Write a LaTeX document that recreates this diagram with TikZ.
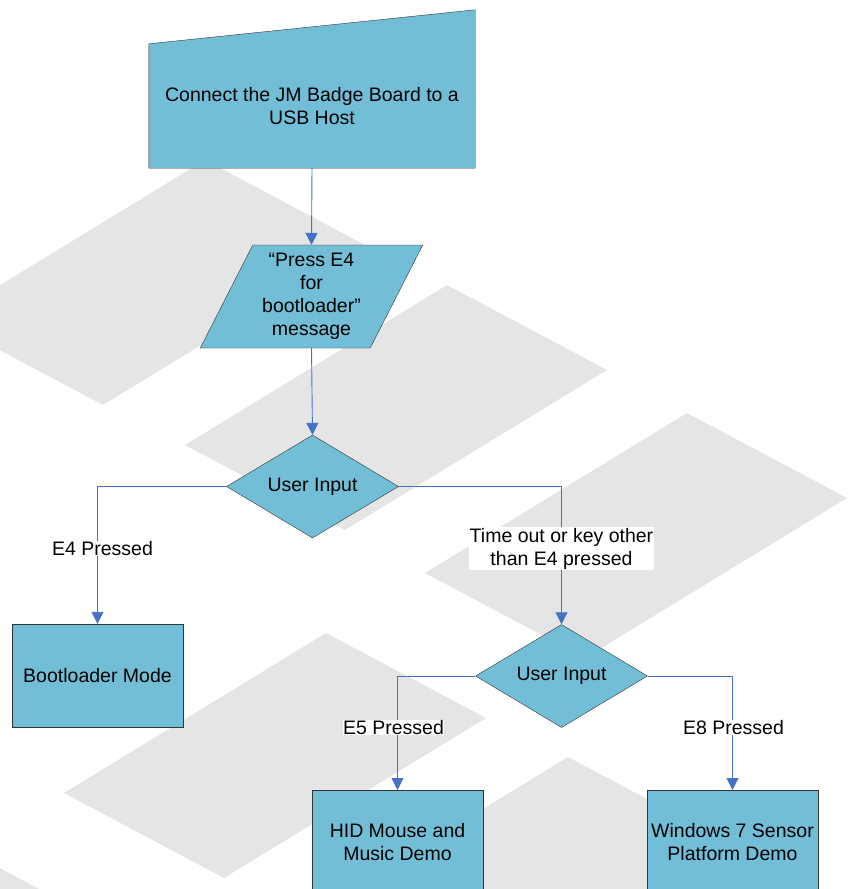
\documentclass[tikz,border=0pt]{standalone}
\usepackage{fontspec}
\setmainfont{Liberation Sans}
\usetikzlibrary{shapes.geometric,arrows.meta,backgrounds}
\definecolor{stepblue}{RGB}{114,190,214}
\definecolor{linkblue}{RGB}{68,114,196}
\definecolor{wmgray}{RGB}{229,229,229}

\begin{document}
\begin{tikzpicture}[x=1pt, y=-1pt,
    >={Triangle[length=12pt, width=12pt]},
    every node/.style={font=\fontsize{19.5}{23}\selectfont, align=center},
    stepbox/.style={rectangle, draw=black!80, fill=stepblue, minimum width=171pt, minimum height=103pt, inner sep=0pt},
    decision/.style={diamond, aspect=1.7, draw=black!80, fill=stepblue, minimum width=172pt, minimum height=103pt, inner sep=0pt},
    iobox/.style={trapezium, trapezium left angle=63, trapezium right angle=117, trapezium stretches=true,
                  draw=black!80, fill=stepblue, minimum width=223pt, minimum height=103pt, inner sep=0pt},
    link/.style={draw=linkblue, line width=0.9pt, ->},
    tag/.style={fill=white, inner sep=0.5pt}
   ]
\useasboundingbox (0,0) rectangle (847,889);

% watermark
\begin{scope}[on background layer]
\foreach \tx/\ty in {205/160, 447/285, 687/413, 326/633, 568/757, -40/847}
{
    \fill[wmgray] (\tx,\ty) -- ++(160,85) -- ++(-262,160) -- ++(-160,-85) -- cycle;
}
\end{scope}

\node[minimum width=326pt, minimum height=122pt, inner sep=0pt] (connect) at (312,106) {Connect the JM Badge Board to a\\USB Host};
\begin{scope}[on background layer]
\draw[draw=black!80, fill=stepblue] ([yshift=-1pt]connect.south west) -- ([yshift=1pt]connect.north west)
    -- ([yshift=35pt]connect.north east) -- ([yshift=-1pt]connect.south east) -- cycle;
\end{scope}

\node[iobox] (press) at (311.5,296.5) {“Press E4\\for\\bootloader”\\message};
\node[decision] (input1) at (312.5,486.5) {User Input};
\node[stepbox] (boot) at (97.5,675.5) {Bootloader Mode};
\node[decision] (input2) at (561.5,676) {User Input};
\node[stepbox, anchor=north] (hid) at (397.5,790) {HID Mouse and\\Music Demo};
\node[stepbox, anchor=north] (win) at (732.5,790) {Windows 7 Sensor\\Platform Demo};

\draw[link] ([yshift=-1pt]connect.south) -- (press.north);
\draw[link] (press.south) -- (input1.north);
\draw[link] (input1.west) -| node[tag, pos=0.725, xshift=5pt] {E4 Pressed} (boot.north);
\draw[link] (input1.east) -| node[tag, pos=0.725] {Time out or key other\\than E4 pressed} (input2.north);
\draw[link] (input2.west) -| node[tag, pos=0.725, xshift=-4pt] {E5 Pressed} (hid.north);
\draw[link] (input2.east) -| node[tag, pos=0.725, xshift=1pt] {E8 Pressed} (win.north);

\end{tikzpicture}
\end{document}
